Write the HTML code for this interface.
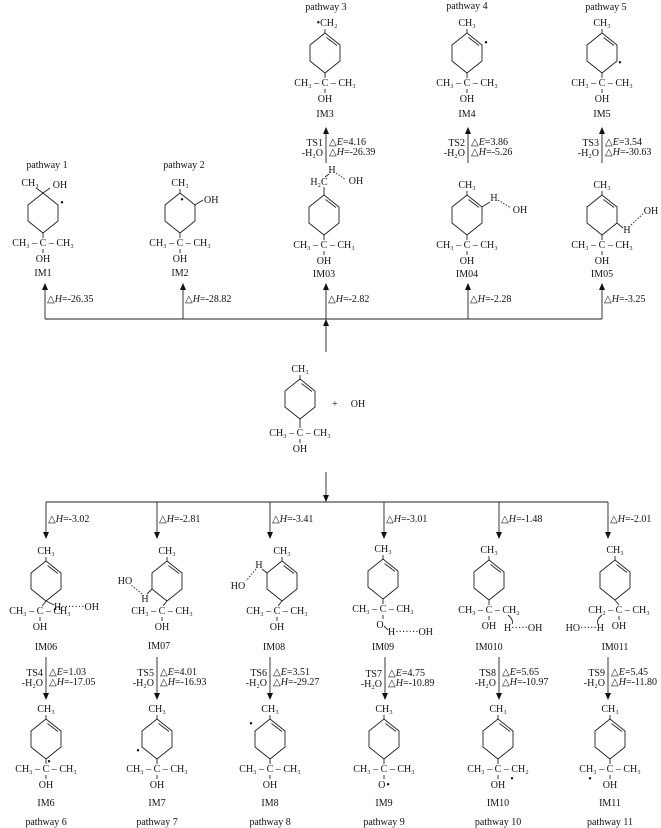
<!DOCTYPE html>
<html><head><meta charset="utf-8">
<style>
html,body{margin:0;padding:0;background:#fff;}
svg{display:block;}
text{font-family:"Liberation Serif",serif;font-size:10px;fill:#111;text-anchor:middle;}
.l{text-anchor:start;}
.r{text-anchor:end;}
line,polyline,polygon,path{stroke:#222;stroke-width:0.9;fill:none;}
.d{stroke-dasharray:1.5,1.5;}
</style></head>
<body>
<svg width="661" height="828" viewBox="0 0 661 828" xmlns="http://www.w3.org/2000/svg">
<defs>
<marker id="ah" markerWidth="7" markerHeight="8" refX="6" refY="3" orient="auto" markerUnits="userSpaceOnUse">
<path d="M0,0 L7,3 L0,6 z" style="fill:#111;stroke:none"/>
</marker>
<g id="r0"><polygon points="0,0 15,12 15,28 0,40 -15,28 -15,12"/></g>
<g id="rd"><polygon points="0,0 15,12 15,28 0,40 -15,28 -15,12"/><line x1="1.5" y1="4.5" x2="12" y2="12.5"/></g>
<g id="bot"><line x1="0" y1="40" x2="0" y2="45"/><line x1="0" y1="56" x2="0" y2="60"/></g>
</defs>

<text x="326" y="10">pathway 3</text>
<text x="467" y="9">pathway 4</text>
<text x="606" y="10">pathway 5</text>

<g transform="translate(325,33)">
<use href="#rd"/><line x1="0" y1="-4" x2="0" y2="0"/>
<text x="2" y="-7">•CH₂</text>
<use href="#bot"/><text y="53">CH₃ – C – CH₃</text><text y="69">OH</text><text y="84">IM3</text>
</g>
<g transform="translate(467,33)">
<use href="#rd"/><line x1="0" y1="-4" x2="0" y2="0"/>
<text y="-7">CH₃</text><text x="19" y="13">•</text>
<use href="#bot"/><text y="53">CH₃ – C – CH₃</text><text y="69">OH</text><text y="84">IM4</text>
</g>
<g transform="translate(602,33)">
<use href="#rd"/><line x1="0" y1="-4" x2="0" y2="0"/>
<text y="-7">CH₃</text><text x="18" y="33">•</text>
<use href="#bot"/><text y="53">CH₃ – C – CH₃</text><text y="69">OH</text><text y="84">IM5</text>
</g>

<line x1="326" y1="163" x2="326" y2="128" marker-end="url(#ah)"/>
<text class="r" x="323" y="146">TS1</text><text class="r" x="323" y="156">-H₂O</text>
<text class="l" x="329" y="145">△<tspan font-style="italic">E</tspan>=4.16</text>
<text class="l" x="329" y="155">△<tspan font-style="italic">H</tspan>=-26.39</text>

<line x1="468" y1="163" x2="468" y2="128" marker-end="url(#ah)"/>
<text class="r" x="465" y="146">TS2</text><text class="r" x="465" y="156">-H₂O</text>
<text class="l" x="471" y="145">△<tspan font-style="italic">E</tspan>=3.86</text>
<text class="l" x="471" y="155">△<tspan font-style="italic">H</tspan>=-5.26</text>

<line x1="602" y1="163" x2="602" y2="128" marker-end="url(#ah)"/>
<text class="r" x="599" y="146">TS3</text><text class="r" x="599" y="156">-H₂O</text>
<text class="l" x="605" y="145">△<tspan font-style="italic">E</tspan>=3.54</text>
<text class="l" x="605" y="155">△<tspan font-style="italic">H</tspan>=-30.63</text>

<text x="47" y="168">pathway 1</text>
<text x="184" y="168">pathway 2</text>

<g transform="translate(43,193)">
<use href="#r0"/>
<line x1="0" y1="0" x2="-7" y2="-5"/><line x1="0" y1="0" x2="7" y2="-5"/>
<text x="-13" y="-7">CH₃</text><text x="17" y="-5">OH</text>
<text x="19" y="13">•</text>
<use href="#bot"/><text y="53">CH₃ – C – CH₃</text><text y="69">OH</text><text y="83">IM1</text>
</g>
<g transform="translate(180,193)">
<use href="#r0"/><line x1="0" y1="-4" x2="0" y2="0"/>
<text y="-7">CH₃</text><text x="2" y="10">•</text>
<line x1="15" y1="12" x2="23" y2="7"/><text class="l" x="24" y="10">OH</text>
<use href="#bot"/><text y="53">CH₃ – C – CH₃</text><text y="69">OH</text><text y="83">IM2</text>
</g>
<g transform="translate(324,195)">
<use href="#rd"/><line x1="0" y1="-8" x2="0" y2="0"/>
<text x="-5" y="-10">H₂C</text><line x1="1" y1="-18" x2="5" y2="-21"/>
<text x="8" y="-22">H</text>
<line class="d" x1="12" y1="-22" x2="22" y2="-15"/>
<text x="32" y="-11">OH</text>
<use href="#bot"/><text y="53">CH₃ – C – CH₃</text><text y="69">OH</text><text y="82">IM03</text>
</g>
<g transform="translate(467,195)">
<use href="#rd"/><line x1="0" y1="-4" x2="0" y2="0"/>
<text y="-7">CH₃</text>
<line x1="15" y1="12" x2="23" y2="7"/><text x="27" y="6">H</text>
<line class="d" x1="31" y1="5" x2="44" y2="13"/><text x="53" y="18">OH</text>
<use href="#bot"/><text y="53">CH₃ – C – CH₃</text><text y="69">OH</text><text y="82">IM04</text>
</g>
<g transform="translate(602,195)">
<use href="#rd"/><line x1="0" y1="-4" x2="0" y2="0"/>
<text y="-7">CH₃</text>
<line x1="15" y1="28" x2="21" y2="33"/><text x="25" y="38">H</text>
<line class="d" x1="29" y1="30" x2="42" y2="18"/><text x="49" y="19">OH</text>
<use href="#bot"/><text y="53">CH₃ – C – CH₃</text><text y="69">OH</text><text y="82">IM05</text>
</g>

<line x1="45" y1="319" x2="602" y2="319"/>
<line x1="45" y1="319" x2="45" y2="284" marker-end="url(#ah)"/>
<line x1="183" y1="319" x2="183" y2="284" marker-end="url(#ah)"/>
<line x1="326" y1="319" x2="326" y2="284" marker-end="url(#ah)"/>
<line x1="468" y1="319" x2="468" y2="284" marker-end="url(#ah)"/>
<line x1="602" y1="319" x2="602" y2="284" marker-end="url(#ah)"/>
<line x1="326" y1="352" x2="326" y2="320" marker-end="url(#ah)"/>
<text class="l" x="47" y="302">△<tspan font-style="italic">H</tspan>=-26.35</text>
<text class="l" x="185" y="302">△<tspan font-style="italic">H</tspan>=-28.82</text>
<text class="l" x="328" y="302">△<tspan font-style="italic">H</tspan>=-2.82</text>
<text class="l" x="470" y="302">△<tspan font-style="italic">H</tspan>=-2.28</text>
<text class="l" x="604" y="302">△<tspan font-style="italic">H</tspan>=-3.25</text>

<g transform="translate(300,379)">
<use href="#rd"/><line x1="0" y1="-4" x2="0" y2="0"/>
<text y="-7">CH₃</text>
<line x1="0" y1="40" x2="0" y2="49"/><line x1="0" y1="60" x2="0" y2="64"/>
<text y="57">CH₃ – C – CH₃</text><text y="73">OH</text>
</g>
<text x="335" y="407">+</text>
<text x="358" y="407">OH</text>

<line x1="326" y1="472" x2="326" y2="501" marker-end="url(#ah)"/>
<line x1="46" y1="502" x2="608" y2="502"/>
<line x1="46" y1="502" x2="46" y2="538" marker-end="url(#ah)"/>
<line x1="157" y1="502" x2="157" y2="538" marker-end="url(#ah)"/>
<line x1="270" y1="502" x2="270" y2="538" marker-end="url(#ah)"/>
<line x1="384" y1="502" x2="384" y2="538" marker-end="url(#ah)"/>
<line x1="499" y1="502" x2="499" y2="538" marker-end="url(#ah)"/>
<line x1="608" y1="502" x2="608" y2="538" marker-end="url(#ah)"/>
<text class="l" x="48" y="522">△<tspan font-style="italic">H</tspan>=-3.02</text>
<text class="l" x="159" y="522">△<tspan font-style="italic">H</tspan>=-2.81</text>
<text class="l" x="272" y="522">△<tspan font-style="italic">H</tspan>=-3.41</text>
<text class="l" x="386" y="522">△<tspan font-style="italic">H</tspan>=-3.01</text>
<text class="l" x="501" y="522">△<tspan font-style="italic">H</tspan>=-1.48</text>
<text class="l" x="610" y="522">△<tspan font-style="italic">H</tspan>=-2.01</text>

<g transform="translate(46,561)">
<use href="#rd"/><line x1="0" y1="-4" x2="0" y2="0"/>
<text y="-7">CH₃</text>
<line x1="0" y1="40" x2="8" y2="44"/>
<text class="l" x="8" y="49">H·······OH</text>
<line x1="0" y1="40" x2="-4" y2="45"/>
<text x="-6" y="53">CH₃ – C – CH₃</text><line x1="-6" y1="56" x2="-6" y2="60"/><text x="-6" y="69">OH</text>
<text y="89">IM06</text>
</g>
<g transform="translate(167,561)">
<use href="#rd"/><line x1="0" y1="-4" x2="0" y2="0"/>
<text y="-7">CH₃</text>
<line x1="-15" y1="28" x2="-20" y2="33"/><text x="-22" y="41">H</text>
<line class="d" x1="-25" y1="33" x2="-36" y2="24"/><text x="-42" y="23">HO</text>
<line x1="0" y1="40" x2="-4" y2="45"/>
<text x="-5" y="53">CH₃ – C – CH₃</text><line x1="-5" y1="56" x2="-5" y2="60"/><text x="-5" y="69">OH</text>
<text x="-8" y="88">IM07</text>
</g>
<g transform="translate(282,561)">
<use href="#rd"/><line x1="0" y1="-4" x2="0" y2="0"/>
<text y="-7">CH₃</text>
<line x1="-15" y1="12" x2="-20" y2="8"/><text x="-23" y="7">H</text>
<line class="d" x1="-26" y1="8" x2="-36" y2="20"/><text x="-44" y="28">HO</text>
<line x1="0" y1="40" x2="-4" y2="45"/>
<text x="-5" y="53">CH₃ – C – CH₃</text><line x1="-5" y1="56" x2="-5" y2="60"/><text x="-5" y="69">OH</text>
<text x="-8" y="89">IM08</text>
</g>
<g transform="translate(383,559)">
<use href="#rd"/><line x1="0" y1="-4" x2="0" y2="0"/>
<text y="-7">CH₃</text>
<use href="#bot"/><text y="53">CH₃ – C – CH₃</text>
<text x="-3" y="69">O</text><line x1="1" y1="67" x2="5" y2="71"/>
<text class="l" x="5" y="76">H·······OH</text>
<text y="91">IM09</text>
</g>
<g transform="translate(489,560)">
<use href="#rd"/><line x1="0" y1="-4" x2="0" y2="0"/>
<text y="-7">CH₃</text>
<use href="#bot"/><text y="53">CH₃ – C – CH₂</text><text y="69">OH</text>
<path d="M19,55 Q25,60 23,64"/>
<text class="l" x="15" y="71">H·····OH</text>
<text y="90">IM010</text>
</g>
<g transform="translate(615,560)">
<use href="#rd"/><line x1="0" y1="-4" x2="0" y2="0"/>
<text y="-7">CH₃</text>
<line x1="0" y1="40" x2="4" y2="45"/>
<text x="4" y="53">CH₂ – C – CH₃</text><line x1="4" y1="56" x2="4" y2="60"/><text x="4" y="69">OH</text>
<path d="M-13,55 Q-19,60 -17,64"/>
<text class="r" x="-11" y="71">HO·····H</text>
<text y="90">IM011</text>
</g>

<line x1="46" y1="657" x2="46" y2="699" marker-end="url(#ah)"/>
<text class="r" x="43" y="676">TS4</text><text class="r" x="43" y="686">-H₂O</text>
<text class="l" x="49" y="675">△<tspan font-style="italic">E</tspan>=1.03</text>
<text class="l" x="49" y="685">△<tspan font-style="italic">H</tspan>=-17.05</text>

<line x1="157" y1="657" x2="157" y2="699" marker-end="url(#ah)"/>
<text class="r" x="154" y="676">TS5</text><text class="r" x="154" y="686">-H₂O</text>
<text class="l" x="160" y="675">△<tspan font-style="italic">E</tspan>=4.01</text>
<text class="l" x="160" y="685">△<tspan font-style="italic">H</tspan>=-16.93</text>

<line x1="270" y1="657" x2="270" y2="699" marker-end="url(#ah)"/>
<text class="r" x="267" y="676">TS6</text><text class="r" x="267" y="686">-H₂O</text>
<text class="l" x="273" y="675">△<tspan font-style="italic">E</tspan>=3.51</text>
<text class="l" x="273" y="685">△<tspan font-style="italic">H</tspan>=-29.27</text>

<line x1="385" y1="657" x2="385" y2="699" marker-end="url(#ah)"/>
<text class="r" x="382" y="677">TS7</text><text class="r" x="382" y="687">-H₂O</text>
<text class="l" x="388" y="676">△<tspan font-style="italic">E</tspan>=4.75</text>
<text class="l" x="388" y="686">△<tspan font-style="italic">H</tspan>=-10.89</text>

<line x1="499" y1="657" x2="499" y2="699" marker-end="url(#ah)"/>
<text class="r" x="496" y="676">TS8</text><text class="r" x="496" y="686">-H₂O</text>
<text class="l" x="502" y="675">△<tspan font-style="italic">E</tspan>=5.65</text>
<text class="l" x="502" y="685">△<tspan font-style="italic">H</tspan>=-10.97</text>

<line x1="608" y1="657" x2="608" y2="699" marker-end="url(#ah)"/>
<text class="r" x="605" y="676">TS9</text><text class="r" x="605" y="686">-H₂O</text>
<text class="l" x="611" y="675">△<tspan font-style="italic">E</tspan>=5.45</text>
<text class="l" x="611" y="685">△<tspan font-style="italic">H</tspan>=-11.80</text>

<g transform="translate(46,719)">
<use href="#rd"/><line x1="0" y1="-4" x2="0" y2="0"/><text y="-7">CH₃</text>
<text x="3" y="46">•</text>
<use href="#bot"/><text y="53">CH₃ – C – CH₃</text><text y="69">OH</text>
<text y="87">IM6</text><text y="106">pathway 6</text>
</g>
<g transform="translate(157,719)">
<use href="#rd"/><line x1="0" y1="-4" x2="0" y2="0"/><text y="-7">CH₃</text>
<text x="-19" y="35">•</text>
<use href="#bot"/><text y="53">CH₃ – C – CH₃</text><text y="69">OH</text>
<text y="87">IM7</text><text y="106">pathway 7</text>
</g>
<g transform="translate(270,719)">
<use href="#rd"/><line x1="0" y1="-4" x2="0" y2="0"/><text y="-7">CH₃</text>
<text x="-19" y="8">•</text>
<use href="#bot"/><text y="53">CH₃ – C – CH₃</text><text y="69">OH</text>
<text y="87">IM8</text><text y="106">pathway 8</text>
</g>
<g transform="translate(384,719)">
<use href="#rd"/><line x1="0" y1="-4" x2="0" y2="0"/><text y="-7">CH₃</text>
<use href="#bot"/><text y="53">CH₃ – C – CH₃</text><text y="69">O<tspan dx="1">•</tspan></text>
<text y="87">IM9</text><text y="106">pathway 9</text>
</g>
<g transform="translate(498,719)">
<use href="#rd"/><line x1="0" y1="-4" x2="0" y2="0"/><text y="-7">CH₃</text>
<use href="#bot"/><text y="53">CH₃ – C – CH₂</text><text y="69">OH</text>
<text x="14" y="63">•</text>
<text y="87">IM10</text><text y="106">pathway 10</text>
</g>
<g transform="translate(610,719)">
<use href="#rd"/><line x1="0" y1="-4" x2="0" y2="0"/><text y="-7">CH₃</text>
<use href="#bot"/><text y="53">CH₃ – C – CH₃</text><text y="69">OH</text>
<text x="-20" y="63">•</text>
<text y="87">IM11</text><text y="106">pathway 11</text>
</g>
</svg>
</body></html>
